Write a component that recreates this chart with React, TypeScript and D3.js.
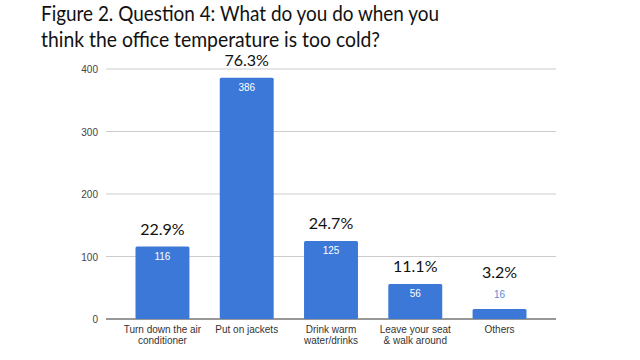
import React from 'react';
import * as d3 from 'd3';

// Chart data
const categories = [
  ['Turn down the air', 'conditioner'],
  ['Put on jackets'],
  ['Drink warm', 'water/drinks'],
  ['Leave your seat', '& walk around'],
  ['Others'],
];
const counts = [116, 386, 125, 56, 16];
const percents = ['22.9%', '76.3%', '24.7%', '11.1%', '3.2%'];
const yTicks = [0, 100, 200, 300, 400];
const titleLines = [
  'Figure 2. Question 4: What do you do when you',
  'think the office temperature is too cold?',
];

const W = 640;
const H = 360;
const margin = { top: 69, right: 84, bottom: 41, left: 106 };
const barColor = '#3c78d8';

export default function App() {
  const x = d3
    .scaleBand<number>()
    .domain(d3.range(counts.length))
    .range([margin.left, W - margin.right])
    .paddingInner(0.36)
    .paddingOuter(0.35);

  const y = d3
    .scaleLinear()
    .domain([0, 400])
    .range([H - margin.bottom, margin.top]);

  const titleFont = 'Lato, "Open Sans", sans-serif';
  const axisFont = '"Liberation Sans", Arial, sans-serif';

  return (
    <svg
      width={W}
      height={H}
      style={{ position: 'absolute', left: 0, top: 0, background: '#fff' }}
    >
      {/* title */}
      <text x={41} y={21} fontFamily={titleFont} fontSize={21} fill="#111"
        textLength={398} lengthAdjust="spacingAndGlyphs">
        {titleLines[0]}
      </text>
      <text x={41} y={47} fontFamily={titleFont} fontSize={21} fill="#111"
        textLength={339} lengthAdjust="spacingAndGlyphs">
        {titleLines[1]}
      </text>

      {/* gridlines + y labels */}
      {yTicks.map((t) => (
        <g key={t}>
          <line
            x1={margin.left}
            x2={W - margin.right}
            y1={y(t)}
            y2={y(t)}
            stroke={t === 0 ? '#333' : '#ccc'}
            strokeWidth={1}
          />
          <text
            x={margin.left - 8}
            y={y(t) + 4}
            textAnchor="end"
            fontFamily={axisFont}
            fontSize={10}
            fill="#444"
          >
            {t}
          </text>
        </g>
      ))}

      {/* bars */}
      {counts.map((v, i) => {
        const bx = x(i)!;
        const bw = x.bandwidth();
        const top = y(v);
        const h = y(0) - top;
        const inside = h > 20;
        const cx = bx + bw / 2;
        const valueY = inside ? top + 13 : top - 11;
        const pctY = inside ? top - 12 : top - 31;
        return (
          <g key={i}>
            <rect x={bx} y={top} width={bw} height={h} fill={barColor} rx={1.5} />
            <text
              x={cx}
              y={valueY}
              textAnchor="middle"
              fontFamily={axisFont}
              fontSize={10}
              fill={inside ? '#fff' : '#5a8ad6'}
            >
              {v}
            </text>
            <text
              x={cx}
              y={pctY}
              textAnchor="middle"
              fontFamily={titleFont}
              fontSize={16}
              fill="#111"
            >
              {percents[i]}
            </text>
            {categories[i].map((line, j) => (
              <text
                key={j}
                x={cx}
                y={y(0) + 14 + j * 11}
                textAnchor="middle"
                fontFamily={axisFont}
                fontSize={10}
                fill="#333"
              >
                {line}
              </text>
            ))}
          </g>
        );
      })}
    </svg>
  );
}
